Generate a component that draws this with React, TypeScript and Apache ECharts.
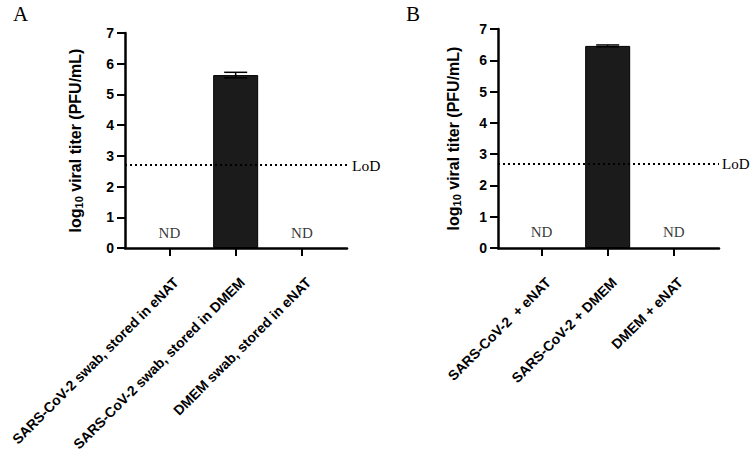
import React, { useEffect, useRef } from "react";
import * as echarts from "echarts";

const categoriesA = [
  "SARS-CoV-2 swab, stored in eNAT",
  "SARS-CoV-2 swab, stored in DMEM",
  "DMEM swab, stored in eNAT",
];
const categoriesB = ["SARS-CoV-2  + eNAT", "SARS-CoV-2 + DMEM", "DMEM + eNAT"];
// null = not detected (ND)
const meanA: (number | null)[] = [null, 5.63, null];
const errA: (number | null)[] = [null, 0.09, null];
const meanB: (number | null)[] = [null, 6.46, null];
const errB: (number | null)[] = [null, 0.03, null];
const lodValue = 2.7;
const yTicks = [0, 1, 2, 3, 4, 5, 6, 7];

const SERIF = "'Liberation Serif', 'DejaVu Serif', serif";
const SANS = "'Liberation Sans', Arial, sans-serif";
const LABEL_SHIFT = 0.1;

function buildPanel(
  idx: number,
  mean: (number | null)[],
  err: (number | null)[],
  lodFont: number,
  lodDist: number
) {
  const barData = mean.map((v, i) => (v == null ? null : [i, v])).filter(Boolean);
  const errData = mean
    .map((v, i) =>
      v == null || err[i] == null ? null : [i, v - (err[i] as number), v + (err[i] as number)]
    )
    .filter(Boolean);
  const ndData = mean.map((v, i) => (v == null ? [i, 0.5] : null)).filter(Boolean);
  const series: any[] = [
    {
      type: "scatter",
      xAxisIndex: idx,
      yAxisIndex: idx,
      data: ndData,
      symbolSize: 1,
      itemStyle: { color: "#ffffff" },
      z: 1,
      label: {
        show: true,
        position: "inside",
        formatter: "ND",
        fontFamily: SERIF,
        fontSize: 15,
        color: "#000",
        textBorderWidth: 0,
      },
      markLine: {
        silent: true,
        symbol: ["none", "none"],
        lineStyle: { type: [2, 3], width: 1.8, color: "#000" },
        label: {
          show: true,
          position: "end",
          formatter: "LoD",
          fontFamily: SERIF,
          fontSize: lodFont,
          color: "#000",
          distance: lodDist,
        },
        data: [{ yAxis: lodValue }],
      },
    },
    {
      type: "bar",
      xAxisIndex: idx,
      yAxisIndex: idx,
      data: barData,
      barWidth: 45,
      z: 3,
      itemStyle: { color: "#1b1b1b", borderColor: "#000", borderWidth: 1 },
    },
    {
      type: "custom",
      xAxisIndex: idx,
      yAxisIndex: idx,
      data: errData,
      z: 4,
      renderItem: (params: any, api: any) => {
        const x = api.value(0);
        const lo = api.coord([x, api.value(1)]);
        const hi = api.coord([x, api.value(2)]);
        const hw = 11.5;
        const st = { stroke: "#000", lineWidth: 1.5 };
        return {
          type: "group",
          children: [
            { type: "line", shape: { x1: lo[0], y1: lo[1], x2: hi[0], y2: hi[1] }, style: st },
            { type: "line", shape: { x1: hi[0] - hw, y1: hi[1], x2: hi[0] + hw, y2: hi[1] }, style: st },
            { type: "line", shape: { x1: lo[0] - hw, y1: lo[1], x2: lo[0] + hw, y2: lo[1] }, style: st },
          ],
        };
      },
    },
  ];
  return series;
}

function xAxisFor(idx: number, cats: string[], min: number, max: number) {
  return {
    type: "value",
    gridIndex: idx,
    min,
    max,
    splitLine: { show: false },
    axisLine: { show: true, onZero: false, lineStyle: { color: "#000", width: 2.5 } },
    axisTick: {
      show: true,
      customValues: cats.map((_, i) => i),
      length: 8,
      lineStyle: { color: "#000", width: 2 },
    },
    axisLabel: {
      show: true,
      customValues: cats.map((_, i) => i + LABEL_SHIFT),
      rotate: 45,
      margin: 32,
      formatter: (v: number) => cats[Math.round(v)] ?? "",
      fontFamily: SANS,
      fontWeight: "bold",
      fontSize: 14,
      color: "#000",
    },
  };
}

function yAxisFor(idx: number, gap: number) {
  return {
    type: "value",
    gridIndex: idx,
    min: yTicks[0],
    max: yTicks[yTicks.length - 1],
    interval: 1,
    splitLine: { show: false },
    axisLine: { show: true, onZero: false, lineStyle: { color: "#000", width: 2.5 } },
    axisTick: { show: true, length: 8, lineStyle: { color: "#000", width: 2 } },
    axisLabel: {
      fontFamily: SANS,
      fontWeight: "bold",
      fontSize: 14,
      color: "#000",
      margin: 11,
    },
    name: "log{sub|10} viral titer (PFU/mL)",
    nameLocation: "middle",
    nameGap: gap,
    nameRotate: 90,
    nameTextStyle: {
      fontFamily: SANS,
      fontWeight: "bold",
      fontSize: 16,
      color: "#000",
      rich: {
        sub: {
          fontFamily: SANS,
          fontWeight: "bold",
          fontSize: 11,
          color: "#000",
          padding: [7, 0, 0, 0],
        },
      },
    },
  };
}

export default function App() {
  const ref = useRef<HTMLDivElement>(null);
  useEffect(() => {
    if (!ref.current) return;
    const chart = echarts.init(ref.current, null, { renderer: "svg" });
    const option: any = {
      animation: false,
      backgroundColor: "#fff",
      grid: [
        {
          left: 125,
          right: 750 - 347,
          top: 33,
          bottom: 452 - 248,
          containLabel: false,
          outerBoundsMode: "none",
        },
        {
          left: 498,
          right: 750 - 719,
          top: 29,
          bottom: 452 - 248,
          containLabel: false,
          outerBoundsMode: "none",
        },
      ],
      xAxis: [xAxisFor(0, categoriesA, -0.67, 2.68), xAxisFor(1, categoriesB, -0.66, 2.685)],
      yAxis: [yAxisFor(0, 41), yAxisFor(1, 36)],
      series: [
        ...buildPanel(0, meanA, errA, 15.5, 5),
        ...buildPanel(1, meanB, errB, 15, 3),
      ],
      graphic: [
        {
          type: "text",
          left: 13,
          top: 3,
          style: { text: "A", fontFamily: SERIF, fontSize: 21, fill: "#000" },
        },
        {
          type: "text",
          left: 406,
          top: 3,
          style: { text: "B", fontFamily: SERIF, fontSize: 21, fill: "#000" },
        },
      ],
    };
    chart.setOption(option);
    return () => chart.dispose();
  }, []);
  return (
    <div
      ref={ref}
      style={{ position: "fixed", left: 0, top: 0, width: 750, height: 452, background: "#fff" }}
    />
  );
}
